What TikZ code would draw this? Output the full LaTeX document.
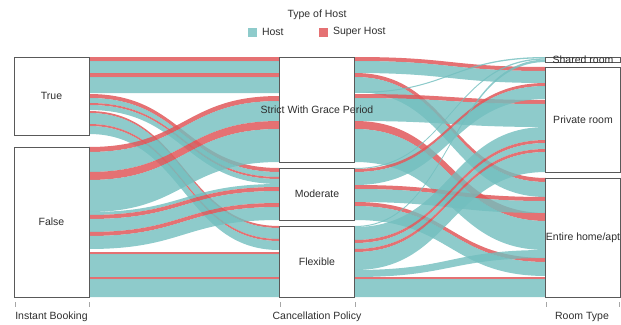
\documentclass[tikz,border=0pt]{standalone}
\usepackage{fontspec}
\setmainfont{Liberation Sans}
\usetikzlibrary{positioning}
\definecolor{hostc}{RGB}{114,190,190}
\definecolor{superc}{RGB}{224,88,90}
\newcommand{\band}[7]{\fill[#7] (#1,#3) .. controls ({(#1+#2)/2},#3) and ({(#1+#2)/2},#5) .. (#2,#5) -- (#2,#6) .. controls ({(#1+#2)/2},#6) and ({(#1+#2)/2},#4) .. (#1,#4) -- cycle;}
\newcommand{\lband}[5]{\band{89}{279}{#1}{#2}{#3}{#4}{#5}}
\newcommand{\rband}[5]{\band{355}{546}{#1}{#2}{#3}{#4}{#5}}
\begin{document}
\begin{tikzpicture}[x=1pt,y=-1pt,inner sep=0pt,outer sep=0pt,
host/.style={fill=hostc,fill opacity=0.8},
super/.style={fill=superc,fill opacity=0.85},
catbox/.style={draw=black!65,fill=white,line width=0.5pt,minimum width=75pt},
lbl/.style={text=black!82,font=\fontsize{10.5}{12}\selectfont},
axtick/.style={draw=black!35,line width=0.6pt}]
\useasboundingbox (0,0) rectangle (621,324);

\lband{57}{61}{57}{61}{super}
\lband{61}{73}{61}{73}{host}
\lband{73}{77}{73}{77}{super}
\lband{77}{93}{77}{93}{host}
\lband{94}{98}{168}{172}{super}
\lband{98}{103}{172}{177}{host}
\lband{103}{105}{177}{179}{super}
\lband{105}{110}{179}{184}{host}
\lband{111}{113}{226}{228}{super}
\lband{113}{124}{228}{239}{host}
\lband{124}{126}{239}{241}{super}
\lband{126}{134}{241}{250}{host}
\lband{147}{152}{96}{101}{super}
\lband{152}{172}{101}{121}{host}
\lband{172}{180}{121}{129}{super}
\lband{180}{212}{129}{162}{host}
\lband{212}{215}{184}{187}{host}
\lband{215}{219}{187}{191}{super}
\lband{219}{232}{191}{203}{host}
\lband{232}{236}{203}{207}{super}
\lband{236}{249}{207}{220}{host}
\lband{252}{254}{252}{254}{super}
\lband{254}{277}{254}{277}{host}
\lband{277}{279}{277}{279}{super}
\lband{279}{297}{279}{297}{host}

\rband{57}{61}{67}{71}{super}
\rband{61}{73}{71}{83}{host}
\rband{73}{77}{178}{182}{super}
\rband{77}{92}{182}{197}{host}
\rband{92}{93}{57}{58.3}{host}
\rband{94}{98}{100}{104}{super}
\rband{98}{121}{104}{127}{host}
\rband{121}{129}{213}{221}{super}
\rband{129}{162}{221}{250}{host}
\rband{168}{169}{58.3}{59.6}{host}
\rband{169}{172}{83}{86}{super}
\rband{172}{185}{86}{99}{host}
\rband{185}{189}{197}{201}{super}
\rband{189}{202}{201}{213}{host}
\rband{202}{206}{258}{262}{super}
\rband{206}{220}{262}{276}{host}
\rband{226}{227}{59.6}{62}{host}
\rband{227}{240}{127}{140}{host}
\rband{240}{243}{140}{143}{super}
\rband{243}{249}{143}{149}{host}
\rband{249}{252}{149}{152}{super}
\rband{252}{270}{152}{172}{host}
\rband{270}{277}{250}{258}{host}
\rband{277}{279}{277}{279}{super}
\rband{279}{297}{279}{297}{host}

\node[catbox,minimum height=78pt] (true) at (51.5,96) {};
\node[catbox,minimum height=150pt] (false) at (51.5,222) {};
\node[catbox,minimum height=105pt] (strict) at (317,109.5) {};
\node[catbox,minimum height=52pt] (moderate) at (317,194) {};
\node[catbox,minimum height=71pt] (flexible) at (317,261.5) {};
\node[catbox,minimum height=5pt] (shared) at (583,59.5) {};
\node[catbox,minimum height=105pt] (private) at (583,119.5) {};
\node[catbox,minimum height=119pt] (entire) at (583,237.5) {};

\node[lbl] at (true) {True};
\node[lbl] at (false) {False};
\node[lbl] at (strict) {Strict With Grace Period};
\node[lbl] at (moderate) {Moderate};
\node[lbl] at (flexible) {Flexible};
\node[lbl] at (shared) {Shared room};
\node[lbl] at (private) {Private room};
\node[lbl] at (entire) {Entire home/apt};

\foreach \x in {15,89,280,355,546,619}
  \draw[axtick] (\x,302) -- (\x,307);
\node[lbl] (ax1) at (51.5,317) {Instant Booking};
\node[lbl] (ax2) at (317,317) {Cancellation Policy};
\node[lbl] (ax3) at (582,317) {Room Type};

\node[lbl] (title) at (317,15) {Type of Host};
\node[fill=hostc,fill opacity=0.8,minimum size=9pt] (hsw) at (252.5,32) {};
\node[lbl,right=5pt of hsw] (hlab) {Host};
\node[fill=superc,fill opacity=0.85,minimum size=9pt] (ssw) at (323.5,32) {};
\node[lbl,right=5pt of ssw] (slab) {Super Host};
\end{tikzpicture}
\end{document}
